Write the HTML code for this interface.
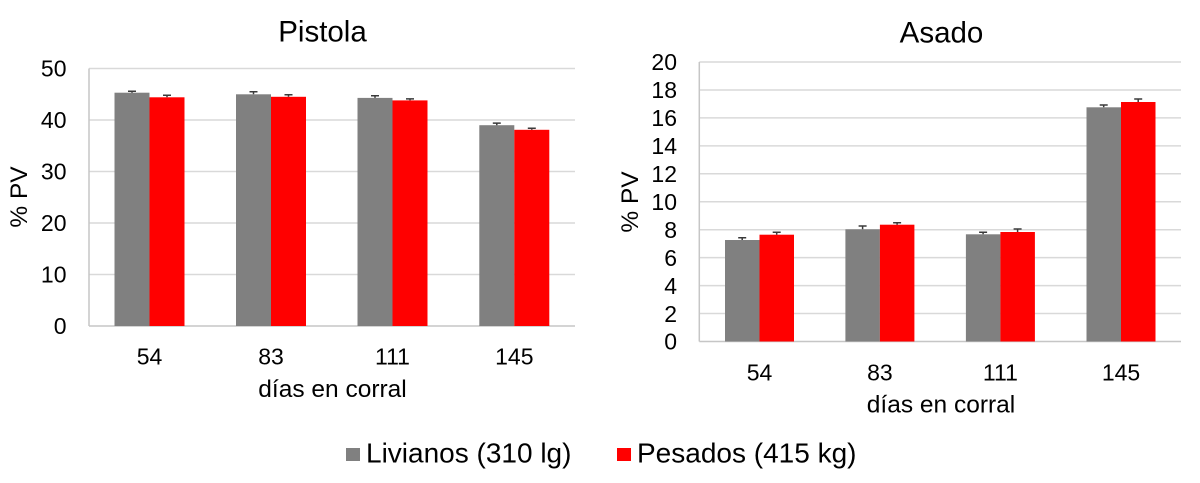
<!DOCTYPE html>
<html>
<head>
<meta charset="utf-8">
<style>
  html, body { margin: 0; padding: 0; background: #ffffff; }
  body { width: 1200px; height: 483px; overflow: hidden; }
  svg { display: block; font-family: "Liberation Sans", Arial, sans-serif; }
  .tick { font-size: 23px; fill: #000; }
  .title { font-size: 29.5px; fill: #000; }
  .atitle { font-size: 24.5px; fill: #000; }
  .leg { font-size: 28px; fill: #000; }
  .grid { stroke: #d9d9d9; stroke-width: 1.5; }
  .axis { stroke: #c6c6c6; stroke-width: 1.5; }
  .err { stroke: #3a3a3a; stroke-width: 1.5; fill: none; }
</style>
</head>
<body>
<svg width="1200" height="483" viewBox="0 0 1200 483" xmlns="http://www.w3.org/2000/svg">
  <rect x="0" y="0" width="1200" height="483" fill="#ffffff"/>

  <!-- ================= LEFT: Pistola ================= -->
  <text class="title" x="322.5" y="41.7" text-anchor="middle">Pistola</text>

  <line class="grid" x1="89" y1="68.5" x2="575" y2="68.5"/>
  <line class="grid" x1="89" y1="120" x2="575" y2="120"/>
  <line class="grid" x1="89" y1="171.5" x2="575" y2="171.5"/>
  <line class="grid" x1="89" y1="223" x2="575" y2="223"/>
  <line class="grid" x1="89" y1="274.5" x2="575" y2="274.5"/>
  <line class="axis" x1="89" y1="68.5" x2="89" y2="326"/>
  <line class="axis" x1="89" y1="326" x2="575" y2="326"/>

  <text class="tick" x="66.5" y="76.7" text-anchor="end">50</text>
  <text class="tick" x="66.5" y="128.2" text-anchor="end">40</text>
  <text class="tick" x="66.5" y="179.7" text-anchor="end">30</text>
  <text class="tick" x="66.5" y="231.2" text-anchor="end">20</text>
  <text class="tick" x="66.5" y="282.7" text-anchor="end">10</text>
  <text class="tick" x="66.5" y="334.2" text-anchor="end">0</text>

  <rect x="114.5" y="92.7" width="35" height="233.3" fill="#808080"/>
  <rect x="149.5" y="97.3" width="35" height="228.7" fill="#ff0000"/>
  <rect x="236" y="94.3" width="35" height="231.7" fill="#808080"/>
  <rect x="271" y="96.8" width="35" height="229.2" fill="#ff0000"/>
  <rect x="357.5" y="97.9" width="35" height="228.1" fill="#808080"/>
  <rect x="392.5" y="100.4" width="35" height="225.6" fill="#ff0000"/>
  <rect x="479.3" y="125.2" width="35" height="200.8" fill="#808080"/>
  <rect x="514.3" y="129.8" width="35" height="196.2" fill="#ff0000"/>

  <path class="err" d="M132 92.7V91.2M128 91.2H136"/>
  <path class="err" d="M167 97.3V95.3M163 95.3H171"/>
  <path class="err" d="M253.5 94.3V91.7M249.5 91.7H257.5"/>
  <path class="err" d="M288.5 96.8V94.8M284.5 94.8H292.5"/>
  <path class="err" d="M375 97.9V95.8M371 95.8H379"/>
  <path class="err" d="M410 100.4V98.9M406 98.9H414"/>
  <path class="err" d="M496.8 125.2V123.1M492.8 123.1H500.8"/>
  <path class="err" d="M531.8 129.8V128.2M527.8 128.2H535.8"/>

  <text class="tick" x="149.5" y="364.3" text-anchor="middle">54</text>
  <text class="tick" x="271" y="364.3" text-anchor="middle">83</text>
  <text class="tick" x="392.5" y="364.3" text-anchor="middle">111</text>
  <text class="tick" x="514.3" y="364.3" text-anchor="middle">145</text>

  <text class="atitle" x="332.5" y="397" text-anchor="middle">días en corral</text>
  <text class="atitle" transform="translate(27,197) rotate(-90)" text-anchor="middle">% PV</text>

  <!-- ================= RIGHT: Asado ================= -->
  <text class="title" x="941.5" y="42.3" text-anchor="middle">Asado</text>

  <line class="grid" x1="699.3" y1="62" x2="1181" y2="62"/>
  <line class="grid" x1="699.3" y1="89.95" x2="1181" y2="89.95"/>
  <line class="grid" x1="699.3" y1="117.9" x2="1181" y2="117.9"/>
  <line class="grid" x1="699.3" y1="145.85" x2="1181" y2="145.85"/>
  <line class="grid" x1="699.3" y1="173.8" x2="1181" y2="173.8"/>
  <line class="grid" x1="699.3" y1="201.75" x2="1181" y2="201.75"/>
  <line class="grid" x1="699.3" y1="229.7" x2="1181" y2="229.7"/>
  <line class="grid" x1="699.3" y1="257.65" x2="1181" y2="257.65"/>
  <line class="grid" x1="699.3" y1="285.6" x2="1181" y2="285.6"/>
  <line class="grid" x1="699.3" y1="313.55" x2="1181" y2="313.55"/>
  <line class="axis" x1="699.3" y1="62" x2="699.3" y2="341.5"/>
  <line class="axis" x1="699.3" y1="341.5" x2="1181" y2="341.5"/>

  <text class="tick" x="677" y="70.2" text-anchor="end">20</text>
  <text class="tick" x="677" y="98.15" text-anchor="end">18</text>
  <text class="tick" x="677" y="126.1" text-anchor="end">16</text>
  <text class="tick" x="677" y="154.05" text-anchor="end">14</text>
  <text class="tick" x="677" y="182" text-anchor="end">12</text>
  <text class="tick" x="677" y="209.95" text-anchor="end">10</text>
  <text class="tick" x="677" y="237.9" text-anchor="end">8</text>
  <text class="tick" x="677" y="265.85" text-anchor="end">6</text>
  <text class="tick" x="677" y="293.8" text-anchor="end">4</text>
  <text class="tick" x="677" y="321.75" text-anchor="end">2</text>
  <text class="tick" x="677" y="349.7" text-anchor="end">0</text>

  <rect x="725" y="240" width="34.5" height="101.5" fill="#808080"/>
  <rect x="759.5" y="234.7" width="34.5" height="106.8" fill="#ff0000"/>
  <rect x="845.4" y="229.3" width="34.5" height="112.2" fill="#808080"/>
  <rect x="879.9" y="224.7" width="34.5" height="116.8" fill="#ff0000"/>
  <rect x="965.9" y="234.3" width="34.5" height="107.2" fill="#808080"/>
  <rect x="1000.4" y="232" width="34.5" height="109.5" fill="#ff0000"/>
  <rect x="1086.5" y="107.3" width="34.5" height="234.2" fill="#808080"/>
  <rect x="1121" y="102" width="34.5" height="239.5" fill="#ff0000"/>

  <path class="err" d="M742.2 240V237.7M738.2 237.7H746.2"/>
  <path class="err" d="M776.7 234.7V232.3M772.7 232.3H780.7"/>
  <path class="err" d="M862.6 229.3V226M858.6 226H866.6"/>
  <path class="err" d="M897.1 224.7V222.7M893.1 222.7H901.1"/>
  <path class="err" d="M983.1 234.3V232.3M979.1 232.3H987.1"/>
  <path class="err" d="M1017.6 232V229M1013.6 229H1021.6"/>
  <path class="err" d="M1103.7 107.3V105M1099.7 105H1107.7"/>
  <path class="err" d="M1138.2 102V99M1134.2 99H1142.2"/>

  <text class="tick" x="759.5" y="380.3" text-anchor="middle">54</text>
  <text class="tick" x="879.9" y="380.3" text-anchor="middle">83</text>
  <text class="tick" x="1000.4" y="380.3" text-anchor="middle">111</text>
  <text class="tick" x="1121" y="380.3" text-anchor="middle">145</text>

  <text class="atitle" x="941" y="412.5" text-anchor="middle">días en corral</text>
  <text class="atitle" transform="translate(638,202) rotate(-90)" text-anchor="middle">% PV</text>

  <!-- ================= LEGEND ================= -->
  <rect x="346" y="448" width="14" height="13" fill="#808080"/>
  <text class="leg" x="366" y="462.5">Livianos (310 lg)</text>
  <rect x="617" y="448" width="14" height="13" fill="#ff0000"/>
  <text class="leg" x="637" y="462.5">Pesados (415 kg)</text>
</svg>
</body>
</html>
